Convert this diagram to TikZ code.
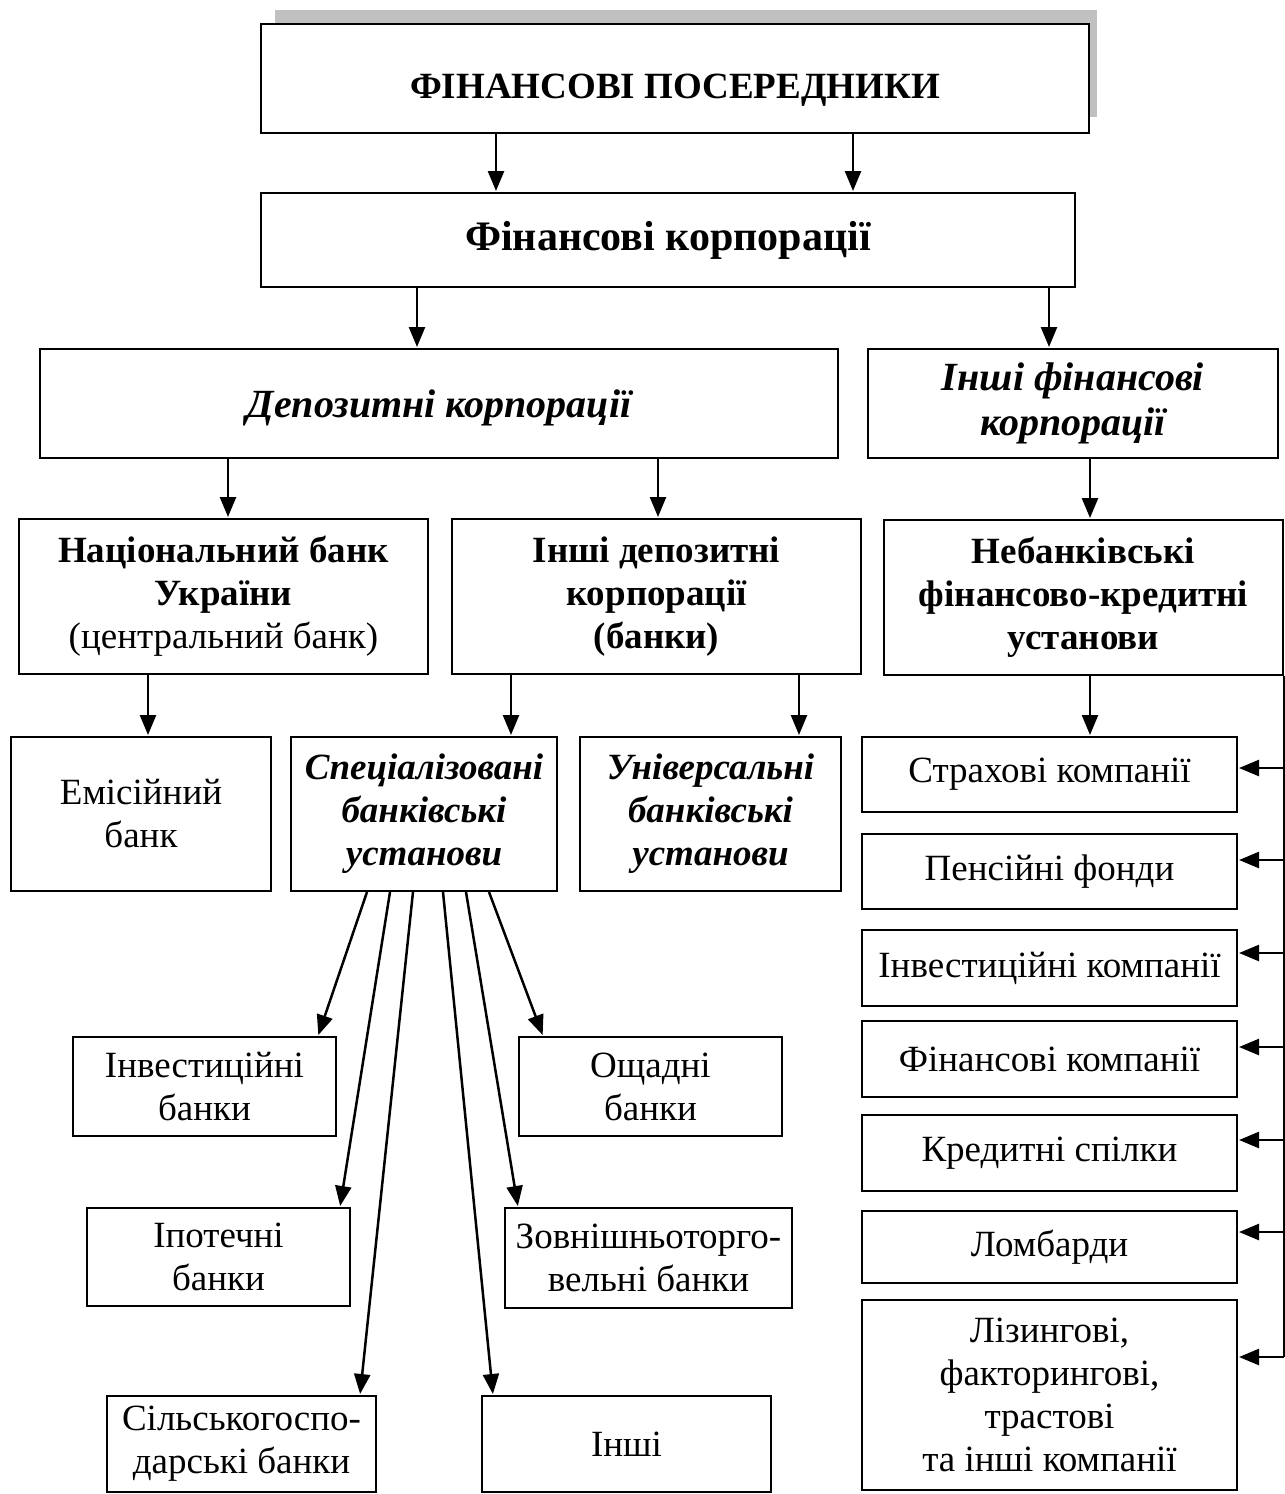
\documentclass[tikz,border=0pt]{standalone}
\usepackage{fontspec}
\setmainfont{Liberation Serif}
\usetikzlibrary{arrows.meta}
\definecolor{shadowgray}{RGB}{192,192,192}
\begin{document}
\begin{tikzpicture}[x=1pt,y=-1pt,
  box/.style={draw, line width=2pt, inner sep=0pt, align=center, fill=white,
    font=\fontsize{37}{43}\selectfont},
  bfbox/.style={box, font=\fontsize{37}{43}\selectfont\bfseries},
  bigbf/.style={box, font=\fontsize{42}{46}\selectfont\bfseries},
  bigit/.style={box, font=\fontsize{40}{45}\selectfont\bfseries\itshape},
  bibox/.style={box, font=\fontsize{37}{43}\selectfont\bfseries\itshape},
  arr/.style={line width=2.5pt, shorten >=1pt, -{Triangle[length=20pt,width=16pt]}},
  trunk/.style={line width=2.5pt}]
\useasboundingbox (0,0) rectangle (1285,1494);
% shadow of the title box
\fill[shadowgray] (275,10) rectangle (1097,117);
% level 1-3
\node[bfbox, minimum width=828pt, minimum height=109pt, text height=40pt, text depth=0pt] (top) at (675,78.5) {ФІНАНСОВІ ПОСЕРЕДНИКИ};
\node[bigbf, minimum width=814pt, minimum height=94pt] (fk) at (668,240) {Фінансові корпорації};
\node[bigit, minimum width=798pt, minimum height=109pt, text depth=0pt] (dep) at (439,403.5) {Депозитні корпорації};
\node[bigit, minimum width=410pt, minimum height=109pt] (other) at (1073,403.5) {Інші фінансові\\корпорації};
% level 4
\node[box, minimum width=409pt, minimum height=155pt] (nbu) at (223.5,596.5) {\textbf{Національний банк}\\\textbf{України}\\(центральний банк)};
\node[bfbox, minimum width=409pt, minimum height=155pt] (odc) at (656.5,596.5) {Інші депозитні\\корпорації\\(банки)};
\node[bfbox, minimum width=399pt, minimum height=155pt] (nbfk) at (1083.5,597.5) {Небанківські\\фінансово-кредитні\\установи};
% level 5
\node[box, minimum width=260pt, minimum height=154pt] (emis) at (141,814) {Емісійний\\банк};
\node[bibox, minimum width=266pt, minimum height=154pt] (spec) at (424,814) {Спеціалізовані\\банківські\\установи};
\node[bibox, minimum width=261pt, minimum height=154pt] (univ) at (710.5,814) {Універсальні\\банківські\\установи};
% right column
\node[box, minimum width=375pt, minimum height=75pt] (s1) at (1049.5,774.5) {Страхові компанії};
\node[box, minimum width=375pt, minimum height=75pt] (s2) at (1049.5,871.5) {Пенсійні фонди};
\node[box, minimum width=375pt, minimum height=76pt] (s3) at (1049.5,968) {Інвестиційні компанії};
\node[box, minimum width=375pt, minimum height=76pt] (s4) at (1049.5,1059) {Фінансові компанії};
\node[box, minimum width=375pt, minimum height=76pt] (s5) at (1049.5,1153) {Кредитні спілки};
\node[box, minimum width=375pt, minimum height=72pt] (s6) at (1049.5,1247) {Ломбарди};
\node[box, minimum width=375pt, minimum height=190pt] (s7) at (1049.5,1395) {Лізингові,\\факторингові,\\трастові\\та інші компанії};
% specialised banks
\node[box, minimum width=263pt, minimum height=99pt] (ib) at (204.5,1086.5) {Інвестиційні\\банки};
\node[box, minimum width=263pt, minimum height=99pt] (osh) at (650.5,1086.5) {Ощадні\\банки};
\node[box, minimum width=263pt, minimum height=98pt] (ip) at (218.5,1257) {Іпотечні\\банки};
\node[box, minimum width=287pt, minimum height=100pt] (zt) at (648.5,1258) {Зовнішньоторго-\\вельні банки};
\node[box, minimum width=269pt, minimum height=96pt] (sg) at (241.5,1444) {Сільськогоспо-\\дарські банки};
\node[box, minimum width=289pt, minimum height=96pt] (inshi) at (626.5,1444) {Інші};
% vertical arrows
\draw[arr] ([xshift=-179pt]top.south) coordinate (a1) -- (a1 |- fk.north);
\draw[arr] ([xshift=178pt]top.south) coordinate (a2) -- (a2 |- fk.north);
\draw[arr] ([xshift=-251pt]fk.south) coordinate (a3) -- (a3 |- dep.north);
\draw[arr] ([xshift=381pt]fk.south) coordinate (a4) -- (a4 |- other.north);
\draw[arr] ([xshift=-211pt]dep.south) coordinate (a5) -- (a5 |- nbu.north);
\draw[arr] ([xshift=219pt]dep.south) coordinate (a6) -- (a6 |- odc.north);
\draw[arr] ([xshift=17pt]other.south) coordinate (a7) -- (a7 |- nbfk.north);
\draw[arr] ([xshift=-75.5pt]nbu.south) coordinate (a8) -- (a8 |- emis.north);
\draw[arr] ([xshift=-145.5pt]odc.south) coordinate (a9) -- (a9 |- spec.north);
\draw[arr] ([xshift=142.5pt]odc.south) coordinate (a10) -- (a10 |- univ.north);
\draw[arr] ([xshift=6.5pt]nbfk.south) coordinate (a11) -- (a11 |- s1.north);
% fan from specialised institutions
\draw[arr] ([xshift=-57pt]spec.south) -- ([xshift=113.5pt]ib.north);
\draw[arr] ([xshift=-34pt]spec.south) -- ([xshift=121.5pt]ip.north);
\draw[arr] ([xshift=-11pt]spec.south) -- ([xshift=118.5pt]sg.north);
\draw[arr] ([xshift=19pt]spec.south) -- ([xshift=-133.5pt]inshi.north);
\draw[arr] ([xshift=42pt]spec.south) -- ([xshift=-130.5pt]zt.north);
\draw[arr] ([xshift=65pt]spec.south) -- ([xshift=-107.5pt]osh.north);
% right trunk
\coordinate (t1) at (nbfk.south east |- 0,768);
\coordinate (t2) at (nbfk.south east |- 0,860);
\coordinate (t3) at (nbfk.south east |- 0,953);
\coordinate (t4) at (nbfk.south east |- 0,1047);
\coordinate (t5) at (nbfk.south east |- 0,1140);
\coordinate (t6) at (nbfk.south east |- 0,1232);
\coordinate (t7) at (nbfk.south east |- 0,1357);
\draw[trunk] (nbfk.south east) -- (t7);
\draw[arr] (t1) -- (t1 -| s1.east);
\draw[arr] (t2) -- (t2 -| s2.east);
\draw[arr] (t3) -- (t3 -| s3.east);
\draw[arr] (t4) -- (t4 -| s4.east);
\draw[arr] (t5) -- (t5 -| s5.east);
\draw[arr] (t6) -- (t6 -| s6.east);
\draw[arr] (t7) -- (t7 -| s7.east);
\end{tikzpicture}
\end{document}
